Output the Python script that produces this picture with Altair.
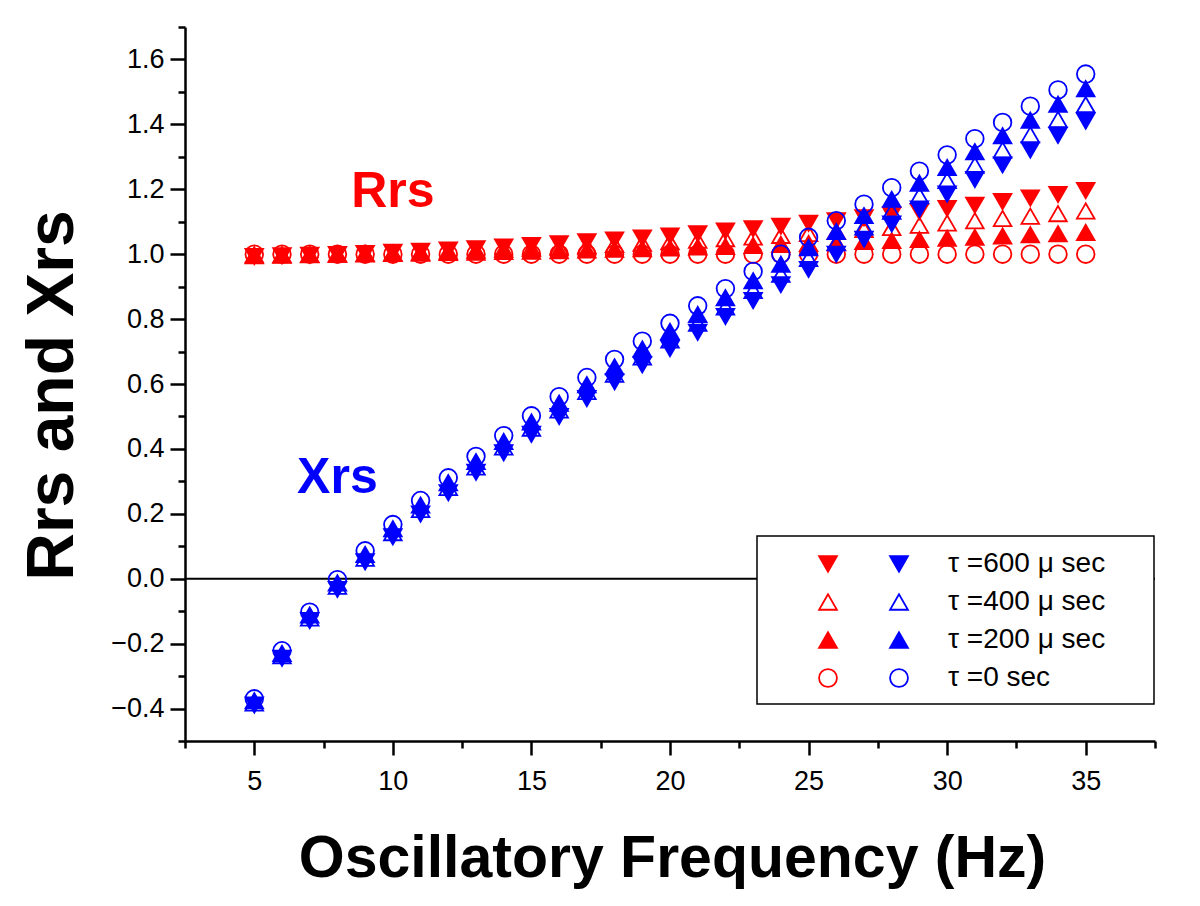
import altair as alt
import pandas as pd

freq = [5, 6, 7, 8, 9, 10, 11, 12, 13, 14, 15, 16, 17, 18, 19, 20,
        21, 22, 23, 24, 25, 26, 27, 28, 29, 30, 31, 32, 33, 34, 35]

tau_labels = ["τ =600 μ sec", "τ =400 μ sec", "τ =200 μ sec", "τ =0 sec"]
tau_shapes = ["triangle-down", "triangle-up", "triangle-up", "circle"]

rrs_600 = [0.993, 0.995, 0.997, 0.999, 1.002, 1.006, 1.009, 1.013, 1.017, 1.022, 1.027,
           1.032, 1.038, 1.044, 1.050, 1.056, 1.063, 1.071, 1.078, 1.086, 1.095, 1.103,
           1.112, 1.121, 1.131, 1.141, 1.151, 1.162, 1.173, 1.184, 1.196]
rrs_400 = [0.995, 0.997, 0.998, 1.000, 1.002, 1.004, 1.006, 1.009, 1.012, 1.015, 1.018,
           1.022, 1.026, 1.030, 1.034, 1.038, 1.043, 1.048, 1.053, 1.058, 1.064, 1.070,
           1.076, 1.082, 1.089, 1.096, 1.103, 1.110, 1.117, 1.125, 1.133]
rrs_200 = [0.998, 0.998, 0.999, 1.000, 1.001, 1.002, 1.003, 1.005, 1.006, 1.008, 1.009,
           1.011, 1.013, 1.015, 1.017, 1.019, 1.022, 1.024, 1.027, 1.030, 1.033, 1.036,
           1.039, 1.042, 1.045, 1.049, 1.052, 1.056, 1.060, 1.063, 1.067]
rrs_0 = [1.000, 1.000, 1.000, 1.000, 1.000, 1.000, 1.000, 1.000, 1.000, 1.000, 1.000,
         1.000, 1.000, 1.000, 1.000, 1.000, 1.000, 1.000, 1.000, 1.000, 1.000, 1.000,
         1.000, 1.000, 1.000, 1.000, 1.000, 1.000, 1.000, 1.000, 1.000]

xrs_600 = [-0.389, -0.245, -0.129, -0.033, 0.052, 0.129, 0.199, 0.265, 0.328, 0.388, 0.445,
           0.500, 0.555, 0.607, 0.659, 0.709, 0.759, 0.808, 0.857, 0.906, 0.953, 1.000,
           1.046, 1.093, 1.139, 1.185, 1.230, 1.275, 1.321, 1.366, 1.410]
xrs_400 = [-0.383, -0.237, -0.121, -0.023, 0.063, 0.142, 0.213, 0.281, 0.344, 0.406, 0.464,
           0.520, 0.577, 0.630, 0.683, 0.736, 0.787, 0.837, 0.888, 0.938, 0.987, 1.035,
           1.084, 1.132, 1.180, 1.227, 1.274, 1.321, 1.368, 1.415, 1.461]
xrs_200 = [-0.376, -0.230, -0.112, -0.013, 0.075, 0.154, 0.227, 0.296, 0.361, 0.423, 0.483,
           0.541, 0.598, 0.653, 0.708, 0.762, 0.814, 0.866, 0.918, 0.969, 1.020, 1.070,
           1.119, 1.169, 1.219, 1.267, 1.316, 1.365, 1.413, 1.462, 1.510]
xrs_0 = [-0.370, -0.222, -0.103, -0.003, 0.086, 0.167, 0.241, 0.311, 0.377, 0.441, 0.502,
         0.561, 0.620, 0.676, 0.732, 0.787, 0.841, 0.894, 0.947, 1.000, 1.052, 1.103,
         1.154, 1.205, 1.256, 1.306, 1.356, 1.406, 1.456, 1.506, 1.555]

x_major = [5, 10, 15, 20, 25, 30, 35]
x_minor = [2.5, 7.5, 12.5, 17.5, 22.5, 27.5, 32.5, 37.5]
y_major = [-0.4, -0.2, 0.0, 0.2, 0.4, 0.6, 0.8, 1.0, 1.2, 1.4, 1.6]
y_minor = [-0.5, -0.3, -0.1, 0.1, 0.3, 0.5, 0.7, 0.9, 1.1, 1.3, 1.5, 1.7]

ann_text = ["Rrs", "Xrs"]
ann_x = [10, 8]
ann_y = [1.145, 0.264]

# draw order inside each colour: circle, open, filled up, filled down
order = [3, 1, 2, 0]


def long_table(series):
    rows = []
    for i in order:
        for f, v in zip(freq, series[i]):
            rows.append({"freq": f, "value": v, "tau": tau_labels[i]})
    return pd.DataFrame(rows)


df_r = long_table([rrs_600, rrs_400, rrs_200, rrs_0])
df_x = long_table([xrs_600, xrs_400, xrs_200, xrs_0])
df_ann = pd.DataFrame({"t": ann_text, "x": ann_x, "y": ann_y})

FONT = "Arial"
xscale = alt.Scale(domain=[2.5, 37.5], nice=False, zero=False)
yscale = alt.Scale(domain=[-0.5, 1.7], nice=False, zero=False)

major_x = alt.Axis(values=x_major, format="d", grid=False, domainColor="black", domainWidth=2.5,
                   tickColor="black", tickWidth=2.5, tickSize=14, labelFont=FONT, labelFontSize=27,
                   labelColor="black", labelPadding=13, labelFlush=False, labelOverlap=False,
                   title="Oscillatory Frequency (Hz)", titleFont=FONT, titleFontSize=59,
                   titleFontWeight="bold", titleColor="black", titleX=487, titleY=135,
                   titleBaseline="alphabetic", titleAlign="center", orient="bottom")
major_y = alt.Axis(values=y_major, format=".1f", grid=False, domainColor="black", domainWidth=2.5,
                   tickColor="black", tickWidth=2.5, tickSize=15, labelFont=FONT, labelFontSize=27,
                   labelColor="black", labelPadding=6, labelFlush=False, labelOverlap=False,
                   title="Rrs and Xrs", titleFont=FONT, titleFontSize=66, titleFontWeight="bold",
                   titleColor="black", titleAngle=270, titleX=-113, titleY=368,
                   titleBaseline="alphabetic", titleAlign="center", orient="left")
minor_x = alt.Axis(values=x_minor, grid=False, domain=False, labels=False, title=None,
                   tickColor="black", tickWidth=2.5, tickSize=7, orient="bottom")
minor_y = alt.Axis(values=y_minor, grid=False, domain=False, labels=False, title=None,
                   tickColor="black", tickWidth=2.5, tickSize=7, orient="left")


def legend(x, show_labels):
    extra = {} if show_labels else {"labelExpr": "''"}
    return alt.Legend(orient="none", legendX=x, legendY=523, title=None, padding=0,
                      symbolSize=320, symbolStrokeWidth=1.8,
                      labelFont=FONT, labelFontSize=28, labelColor="black",
                      labelOffset=35, rowPadding=10, **extra)


def series_layer(df, color, fills, lx, show_labels, xa, ya):
    lg = legend(lx, show_labels)
    return alt.Chart(df).mark_point(opacity=1, size=310, strokeWidth=1.8).encode(
        x=alt.X("freq:Q", scale=xscale, axis=xa),
        y=alt.Y("value:Q", scale=yscale, axis=ya),
        shape=alt.Shape("tau:N", scale=alt.Scale(domain=tau_labels, range=tau_shapes), legend=lg),
        fill=alt.Fill("tau:N", scale=alt.Scale(domain=tau_labels, range=fills), legend=lg),
        stroke=alt.Stroke("tau:N", scale=alt.Scale(domain=tau_labels, range=[color] * 4),
                          legend=lg),
    )


red = series_layer(df_r, "#ff0000", ["#ff0000", "transparent", "#ff0000", "transparent"],
                   629, False, major_x, major_y)
blue = series_layer(df_x, "#0000ff", ["#0000ff", "transparent", "#0000ff", "transparent"],
                    700, True, None, None)

minor = alt.Chart(df_r.head(1)).mark_point(opacity=0).encode(
    x=alt.X("freq:Q", scale=xscale, axis=minor_x),
    y=alt.Y("value:Q", scale=yscale, axis=minor_y),
)

zero = alt.Chart(alt.Data(values=[{"v": 0}])).mark_rule(color="black", strokeWidth=2.2).encode(
    y=alt.Y("v:Q", scale=yscale, axis=None)
)

frame = alt.Chart(alt.Data(values=[{"k": 1}])).mark_rect(
    fill="white", stroke="black", strokeWidth=1.5
).encode(x=alt.value(572), x2=alt.value(969), y=alt.value(509), y2=alt.value(677))

ann = alt.Chart(df_ann).mark_text(font=FONT, fontSize=50, fontWeight="bold",
                                  baseline="alphabetic", align="center").encode(
    x=alt.X("x:Q", scale=xscale, axis=None),
    y=alt.Y("y:Q", scale=yscale, axis=None),
    text="t:N",
    color=alt.Color("t:N", scale=alt.Scale(domain=ann_text, range=["#ff0000", "#0000ff"]),
                    legend=None),
)

chart = alt.layer(zero, frame, minor, red, blue, ann).resolve_scale(
    shape="independent", fill="independent", stroke="independent"
).resolve_legend(
    shape="independent", fill="independent", stroke="independent"
).resolve_axis(
    x="independent", y="independent"
).properties(
    width=970, height=714, autosize="none",
    padding={"left": 177, "top": 19, "right": 20, "bottom": 150},
    background="white",
).configure_view(stroke=None)

chart.save("out.html", embed_options={"renderer": "svg", "actions": False})
